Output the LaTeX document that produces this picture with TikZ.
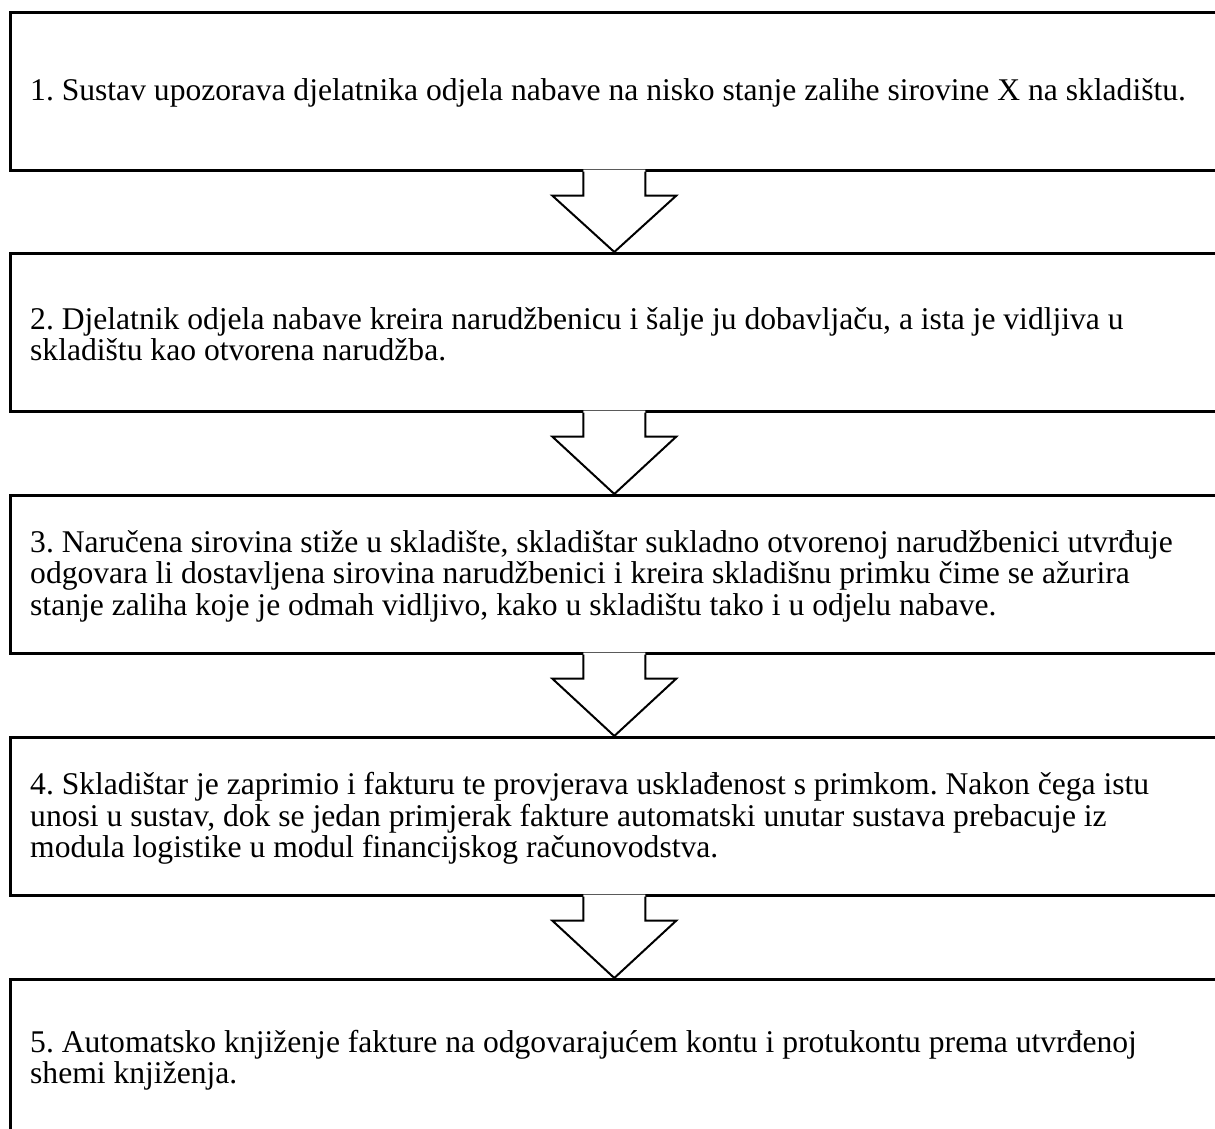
\documentclass[tikz,border=0pt]{standalone}
\usepackage{fontspec}
\setmainfont{Liberation Serif}
\usetikzlibrary{calc}
\frenchspacing
\tikzset{
  box/.style={draw=black, line width=2.6pt, fill=white, minimum width=1208pt, minimum height=158pt, inner sep=0pt, anchor=north west},
  txt/.style={inner sep=0pt, anchor=west, align=left, font=\fontsize{31.6}{31.5}\selectfont},
  blockarrow/.style={draw=black, line width=2pt, line join=miter},
}
\newcommand\downblock[2]{%
  \fill[white] ($(#1.south)+(-31,-2)$) -- ($(#1.south)+(-31,24)$) -- ($(#1.south)+(-62,24)$) -- (#2.north) -- ($(#1.south)+(62,24)$) -- ($(#1.south)+(31,24)$) -- ($(#1.south)+(31,-2)$) -- cycle;
  \draw[blockarrow] ($(#1.south)+(-31,0)$) -- ($(#1.south)+(-31,24)$) -- ($(#1.south)+(-62,24)$) -- (#2.north) -- ($(#1.south)+(62,24)$) -- ($(#1.south)+(31,24)$) -- ($(#1.south)+(31,0)$);
}
\begin{document}
\begin{tikzpicture}[x=1pt,y=-1pt]
\useasboundingbox (0,0) rectangle (1215,1128);
\clip (0,0) rectangle (1215,1128);
\node[box] (b1) at (9,11) {};
\node[box] (b2) at (9,252) {};
\node[box] (b3) at (9,494) {};
\node[box] (b4) at (9,736) {};
\node[box] (b5) at (9,978) {};
\downblock{b1}{b2}
\downblock{b2}{b3}
\downblock{b3}{b4}
\downblock{b4}{b5}
\node[txt] (t1) at ($(b1.west)+(21,2)$) {1. Sustav upozorava djelatnika odjela nabave na nisko stanje zalihe sirovine X na skladištu.};
\node[txt] (t2) at ($(b2.west)+(21,2)$) {2. Djelatnik odjela nabave kreira narudžbenicu i šalje ju dobavljaču, a ista je vidljiva u\\skladištu kao otvorena narudžba.};
\node[txt] (t3) at ($(b3.west)+(21,2)$) {3. Naručena sirovina stiže u skladište, skladištar sukladno otvorenoj narudžbenici utvrđuje\\odgovara li dostavljena sirovina narudžbenici i kreira skladišnu primku čime se ažurira\\stanje zaliha koje je odmah vidljivo, kako u skladištu tako i u odjelu nabave.};
\node[txt] (t4) at ($(b4.west)+(21,2)$) {4. Skladištar je zaprimio i fakturu te provjerava usklađenost s primkom. Nakon čega istu\\unosi u sustav, dok se jedan primjerak fakture automatski unutar sustava prebacuje iz\\modula logistike u modul financijskog računovodstva.};
\node[txt] (t5) at ($(b5.west)+(21,2)$) {5. Automatsko knjiženje fakture na odgovarajućem kontu i protukontu prema utvrđenoj\\shemi knjiženja.};
\end{tikzpicture}
\end{document}
